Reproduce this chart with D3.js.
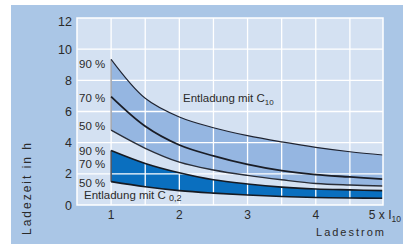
<!DOCTYPE html>
<html>
<head>
<meta charset="utf-8">
<script src="https://cdn.jsdelivr.net/npm/d3@7"></script>
<style>
  body { margin: 0; background: #fff; }
  svg text { font-family: "Liberation Sans", Arial, sans-serif; fill: #2a2a2a; }
</style>
</head>
<body>
<svg width="403" height="244"></svg>
<script>
// charge current in multiples of I10
const xVals = [1, 1.5, 2, 2.5, 3, 3.5, 4, 4.5, 5];
// charge time in h, discharge with C10 (state 90 / 70 / 50 %)
const c10Top = [9.35, 6.85, 5.65, 4.96, 4.45, 4.05, 3.7, 3.42, 3.2];
const c10Mid = [6.95, 5.05, 3.85, 3.15, 2.6, 2.2, 1.95, 1.8, 1.65];
const c10Low = [4.8, 3.64, 2.75, 2.25, 1.9, 1.62, 1.38, 1.28, 1.22];
// discharge with C0,2
const c02Top = [3.5, 2.67, 2.07, 1.62, 1.35, 1.15, 1.03, 0.97, 0.92];
const c02Low = [1.5, 1.17, 0.92, 0.76, 0.64, 0.55, 0.48, 0.45, 0.43];

const yTicks = [0, 2, 4, 6, 8, 10, 12];
const xTicks = [1, 2, 3, 4];
// percent labels and their heights (h)
const pctLabels = ["90 %", "70 %", "50 %", "90 %", "70 %", "50 %"];
const pctLevels = [9.05, 6.9, 5.1, 3.45, 2.65, 1.42];

const svg = d3.select("svg");

// outer panel
svg.append("rect")
  .attr("x", 11).attr("y", 5)
  .attr("width", 392).attr("height", 239)
  .attr("fill", "#aac6e6");

const plot = { left: 77, right: 383, top: 18, bottom: 205 };

const x = d3.scaleLinear().domain([0.5, 5]).range([plot.left, 384]);
const y = d3.scaleLinear().domain([0, 12]).range([plot.bottom, plot.top]);

svg.append("defs").append("clipPath").attr("id", "clip")
  .append("rect")
  .attr("x", plot.left).attr("y", plot.top)
  .attr("width", plot.right - plot.left).attr("height", plot.bottom - plot.top);

// plot background
svg.append("rect")
  .attr("x", plot.left).attr("y", plot.top)
  .attr("width", plot.right - plot.left).attr("height", plot.bottom - plot.top)
  .attr("fill", "#d4e1f2");

const g = svg.append("g").attr("clip-path", "url(#clip)");

const curve = d3.curveCatmullRom.alpha(0.5);

function band(top, low) {
  return d3.area()
    .x((d, i) => x(xVals[i]))
    .y0((d, i) => y(low[i]))
    .y1((d, i) => y(top[i]))
    .curve(curve)(xVals);
}

function line(vals) {
  return d3.line()
    .x((d, i) => x(xVals[i]))
    .y((d, i) => y(vals[i]))
    .curve(curve)(xVals);
}

// bands
g.append("path").attr("d", band(c10Top, c10Low)).attr("fill", "#95b6e1");
g.append("path").attr("d", band(c02Top, c02Low)).attr("fill", "#0a6fbf");

// grid on top of the fills
const gridX = d3.range(1, 5, 0.5);
g.selectAll(".vgrid")
  .data(gridX)
  .join("line")
  .attr("x1", d => x(d)).attr("x2", d => x(d))
  .attr("y1", plot.top).attr("y2", plot.bottom)
  .attr("stroke", "#fff").attr("stroke-width", 1.3);

g.selectAll(".hgrid")
  .data(yTicks.slice(1, -1))
  .join("line")
  .attr("x1", plot.left).attr("x2", plot.right)
  .attr("y1", d => y(d)).attr("y2", d => y(d))
  .attr("stroke", "#fff").attr("stroke-width", 1.3);

// left edges of the bands
g.append("line")
  .attr("x1", x(1)).attr("x2", x(1))
  .attr("y1", y(c10Top[0])).attr("y2", y(c10Low[0]))
  .attr("stroke", "#8a8f99").attr("stroke-width", 1.2);
g.append("line")
  .attr("x1", x(1)).attr("x2", x(1))
  .attr("y1", y(c02Top[0])).attr("y2", y(c02Low[0]))
  .attr("stroke", "#1d2433").attr("stroke-width", 1.2);

// curves
g.append("path").attr("d", line(c10Top)).attr("fill", "none")
  .attr("stroke", "#1f2330").attr("stroke-width", 1.1);
g.append("path").attr("d", line(c10Mid)).attr("fill", "none")
  .attr("stroke", "#1a1d26").attr("stroke-width", 1.8);
g.append("path").attr("d", line(c10Low)).attr("fill", "none")
  .attr("stroke", "#2a2e38").attr("stroke-width", 1.4);
g.append("path").attr("d", line(c02Top)).attr("fill", "none")
  .attr("stroke", "#161a22").attr("stroke-width", 1.6);
g.append("path").attr("d", line(c02Low)).attr("fill", "none")
  .attr("stroke", "#161a22").attr("stroke-width", 1.6);

// white frame of the plot
svg.append("rect")
  .attr("x", plot.left).attr("y", plot.top)
  .attr("width", plot.right - plot.left).attr("height", plot.bottom - plot.top)
  .attr("fill", "none").attr("stroke", "#fff").attr("stroke-width", 1.5);

// y tick labels
svg.selectAll(".ytick")
  .data(yTicks)
  .join("text")
  .attr("x", 72)
  .attr("y", d => Math.max(y(d), 21))
  .attr("dy", "0.36em")
  .attr("text-anchor", "end")
  .attr("font-size", 12.5)
  .text(d => d);

// x tick labels
svg.selectAll(".xtick")
  .data(xTicks)
  .join("text")
  .attr("x", d => x(d))
  .attr("y", 219)
  .attr("text-anchor", "middle")
  .attr("font-size", 12)
  .text(d => d);

const last = svg.append("text")
  .attr("x", x(5) + 17).attr("y", 219)
  .attr("text-anchor", "end")
  .attr("font-size", 12);
last.append("tspan").text("5 x I");
last.append("tspan").attr("font-size", 8.5).attr("dy", 2.5).text("10");

// percent labels
svg.selectAll(".pct")
  .data(pctLabels)
  .join("text")
  .attr("x", 79)
  .attr("y", (d, i) => y(pctLevels[i]))
  .attr("dy", "0.36em")
  .attr("font-size", 11.5)
  .text(d => d);

// series labels
const t1 = svg.append("text")
  .attr("x", 183).attr("y", y(6.85))
  .attr("dy", "0.36em")
  .attr("font-size", 11.5);
t1.append("tspan").text("Entladung mit C");
t1.append("tspan").attr("font-size", 8).attr("dy", 2.5).text("10");

const t2 = svg.append("text")
  .attr("x", 84).attr("y", y(0.63))
  .attr("dy", "0.36em")
  .attr("font-size", 11.5);
t2.append("tspan").text("Entladung mit C ");
t2.append("tspan").attr("font-size", 9).attr("dy", 1.5).text("0,2");

// axis titles
svg.append("text")
  .attr("transform", "translate(31,188) rotate(-90)")
  .attr("text-anchor", "middle")
  .attr("font-size", 12)
  .attr("letter-spacing", 2)
  .text("Ladezeit in h");

svg.append("text")
  .attr("x", 386).attr("y", 236)
  .attr("text-anchor", "end")
  .attr("font-size", 11)
  .attr("letter-spacing", 2)
  .text("Ladestrom");
</script>
</body>
</html>
